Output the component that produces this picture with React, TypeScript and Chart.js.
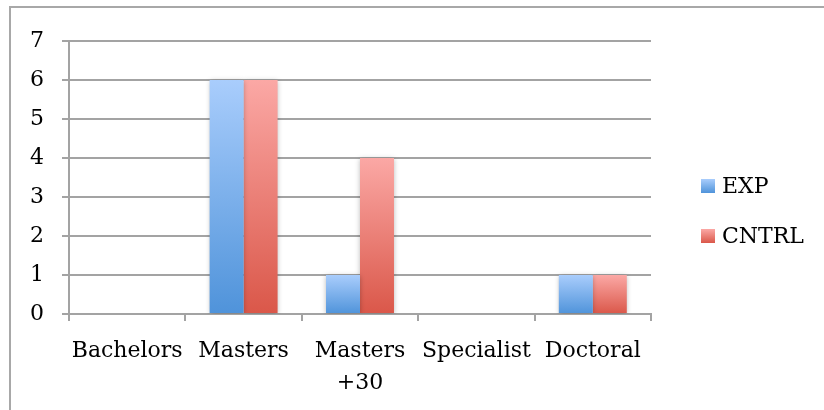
import React, { useEffect, useRef } from "react";
import { Chart, registerables } from "chart.js";

Chart.register(...registerables);

const categories = ["Bachelors", "Masters", "Masters +30", "Specialist", "Doctoral"];
const expValues = [0, 6, 1, 0, 1];
const cntrlValues = [0, 6, 4, 0, 1];
const seriesNames = ["EXP", "CNTRL"];
const yMax = 7;

const FONT = "DejaVu Serif";
const GRID = "#a3a3a3";
const EXP_TOP = "#a9cdfc";
const EXP_BOTTOM = "#4f93da";
const CN_TOP = "#fba8a5";
const CN_BOTTOM = "#da5749";

const makeGrad = (top: string, bottom: string) => (ctx: any) => {
  const chart = ctx.chart;
  const scales = chart.scales;
  if (ctx.type !== "data" || !scales || !scales.y) return bottom;
  const y0 = scales.y.getPixelForValue(0);
  const y1 = scales.y.getPixelForValue(ctx.raw);
  if (!isFinite(y0) || !isFinite(y1) || Math.abs(y0 - y1) < 0.5) return bottom;
  const g = chart.ctx.createLinearGradient(0, y1, 0, y0);
  g.addColorStop(0, top);
  g.addColorStop(1, bottom);
  return g;
};

const shadowPlugin = {
  id: "barShadow",
  beforeDatasetsDraw(chart: any) {
    const c = chart.ctx;
    c.save();
    c.shadowColor = "rgba(0,0,0,0.28)";
    c.shadowBlur = 5;
    c.shadowOffsetX = 0;
    c.shadowOffsetY = 1;
  },
  afterDatasetsDraw(chart: any) {
    chart.ctx.restore();
  },
};

const legendPlugin = {
  id: "customLegend",
  afterDraw(chart: any) {
    const c = chart.ctx;
    const items = [
      { label: seriesNames[0], top: EXP_TOP, bottom: EXP_BOTTOM, y: 186 },
      { label: seriesNames[1], top: CN_TOP, bottom: CN_BOTTOM, y: 236 },
    ];
    c.save();
    items.forEach((it) => {
      const x = 701;
      const s = 14;
      const g = c.createLinearGradient(0, it.y - s / 2, 0, it.y + s / 2);
      g.addColorStop(0, it.top);
      g.addColorStop(1, it.bottom);
      c.fillStyle = g;
      c.fillRect(x, it.y - s / 2, s, s);
      c.fillStyle = "#000";
      c.font = `22px "${FONT}"`;
      c.textBaseline = "middle";
      c.textAlign = "left";
      c.fillText(it.label, 722, it.y + 1);
    });
    c.restore();
  },
};

export default function App() {
  const ref = useRef<HTMLCanvasElement | null>(null);

  useEffect(() => {
    if (!ref.current) return;
    const chart = new Chart(ref.current, {
      type: "bar",
      data: {
        labels: categories,
        datasets: [
          {
            label: seriesNames[0],
            data: expValues,
            backgroundColor: makeGrad(EXP_TOP, EXP_BOTTOM),
            borderWidth: 0,
            categoryPercentage: 0.584,
            barPercentage: 1,
          },
          {
            label: seriesNames[1],
            data: cntrlValues,
            backgroundColor: makeGrad(CN_TOP, CN_BOTTOM),
            borderWidth: 0,
            categoryPercentage: 0.584,
            barPercentage: 1,
          },
        ],
      },
      options: {
        responsive: false,
        animation: false,
        events: [],
        layout: { padding: { left: 0, right: 173, top: 41, bottom: 0 } },
        plugins: {
          legend: { display: false },
          tooltip: { enabled: false },
        },
        scales: {
          x: {
            offset: true,
            grid: {
              display: true,
              drawOnChartArea: false,
              drawTicks: true,
              tickLength: 7,
              color: GRID,
              lineWidth: 2,
              offset: true,
            },
            border: { display: true, color: GRID, width: 2 },
            ticks: {
              color: "#000",
              font: { family: FONT, size: 22, lineHeight: 1.45 },
              padding: 14,
              maxRotation: 0,
              autoSkip: false,
              callback: function (this: any, value: any) {
                const l = String(this.getLabelForValue(value));
                return l.split(" ");
              },
            },
            afterFit(scale: any) {
              scale.height = 96;
            },
          },
          y: {
            min: 0,
            max: yMax,
            ticks: {
              stepSize: 1,
              color: "#000",
              font: { family: FONT, size: 22 },
              padding: 18,
            },
            grid: {
              color: GRID,
              lineWidth: 2,
              tickLength: 7,
            },
            border: { display: true, color: GRID, width: 2 },
            afterFit(scale: any) {
              scale.width = 69;
            },
          },
        },
      },
      plugins: [shadowPlugin, legendPlugin],
    });
    return () => chart.destroy();
  }, []);

  return (
    <div
      style={{
        position: "fixed",
        left: 0,
        top: 0,
        width: 824,
        height: 410,
        overflow: "hidden",
        background: "#fff",
      }}
    >
      <div
        style={{
          position: "absolute",
          left: 9,
          top: 6,
          width: 900,
          height: 500,
          border: "2px solid #a8a8a8",
        }}
      />
      <canvas
        ref={ref}
        width={824}
        height={410}
        style={{ position: "absolute", left: 0, top: 0, width: 824, height: 410 }}
      />
    </div>
  );
}
